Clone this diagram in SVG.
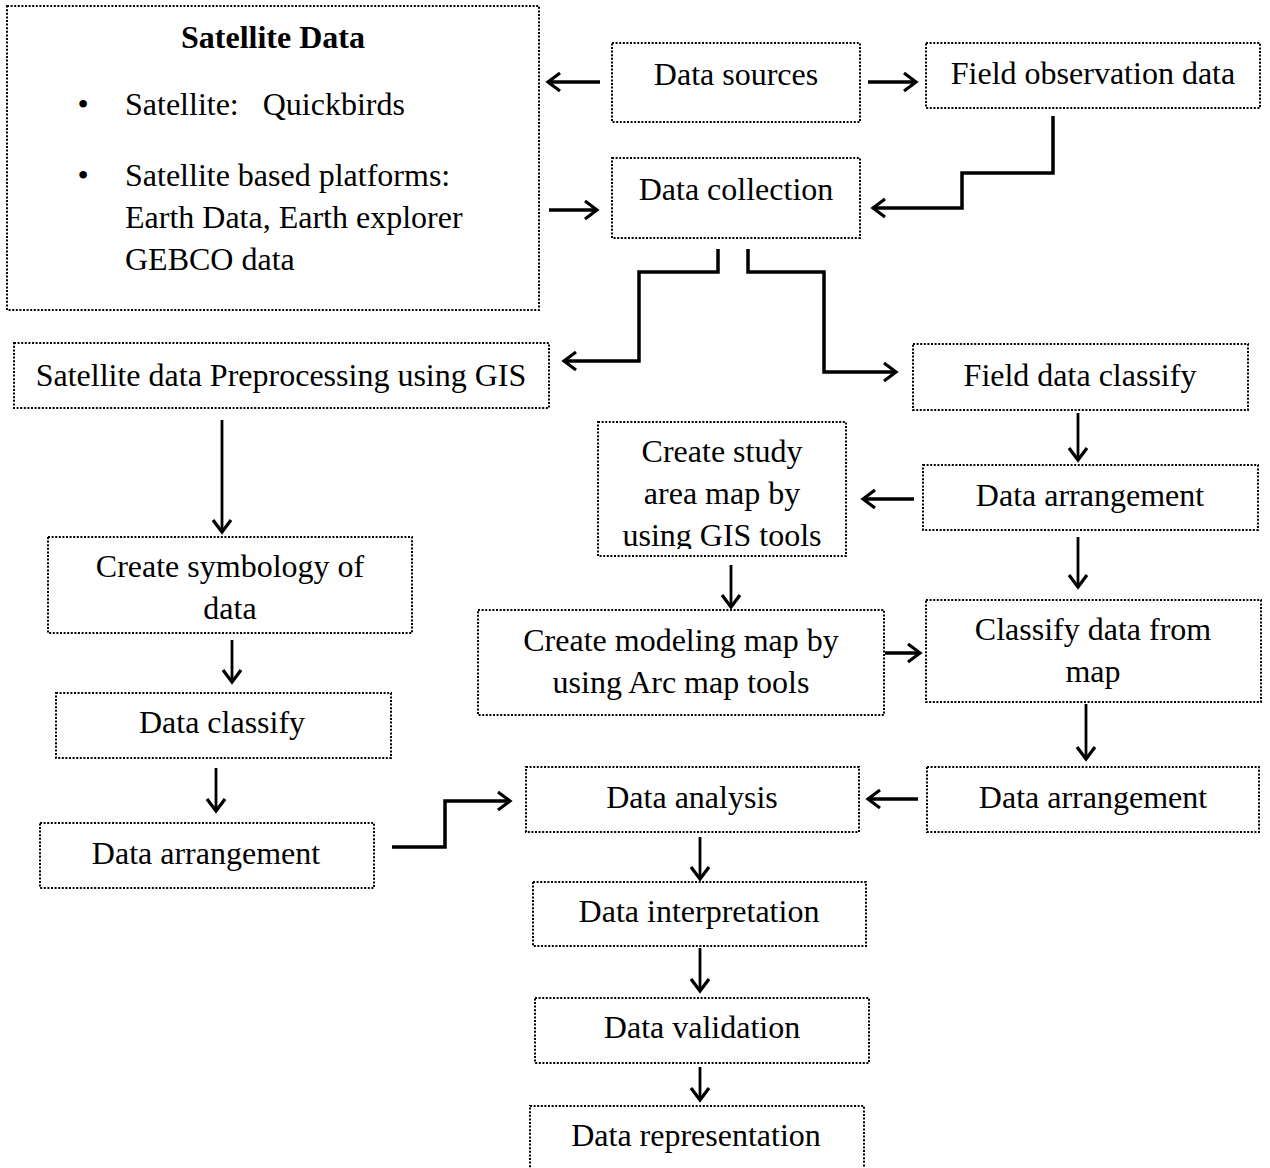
<svg xmlns="http://www.w3.org/2000/svg" width="1270" height="1168" viewBox="0 0 1270 1168">
<style>
.box{fill:none;stroke:#000;stroke-width:2;stroke-dasharray:2 1.6}
.t{font-family:"Liberation Serif","Times New Roman",serif;font-size:32px;fill:#000;text-anchor:middle}
.l{text-anchor:start}
.b{font-weight:bold}
.c{fill:none;stroke:#000;stroke-width:3.5;marker-end:url(#ah)}
.v{stroke-width:2.8}
</style>
<defs>
<marker id="ah" viewBox="-15 -11 17 22" refX="0" refY="0" markerWidth="17" markerHeight="22" orient="auto" markerUnits="userSpaceOnUse" overflow="visible">
<path d="M-12,-9 L0,0 L-12,9" fill="none" stroke="#000" stroke-width="3.2"/>
</marker>
<clipPath id="clipStudy"><rect x="598" y="422" width="248" height="127"/></clipPath>
</defs>
<rect width="1270" height="1168" fill="#fff"/>

<g id="connectors">
<path class="c" d="M600,82 H548"/>
<path class="c" d="M868,82 H916"/>
<path class="c" d="M549,210 H597"/>
<path class="c" d="M1053,116 V173 H962 V208 H873"/>
<path class="c" d="M718,249 V272 H639 V361 H564"/>
<path class="c" d="M748,249 V272 H824 V372 H896"/>
<path class="c v" d="M222,420 V532"/>
<path class="c v" d="M232,640 V682"/>
<path class="c v" d="M216,768 V811"/>
<path class="c" d="M392,847 H445 V801 H510"/>
<path class="c v" d="M1078,413 V460"/>
<path class="c" d="M914,499 H863"/>
<path class="c v" d="M1078,537 V587"/>
<path class="c v" d="M731,565 V607"/>
<path class="c" d="M885,653 H920"/>
<path class="c v" d="M1086,704 V759"/>
<path class="c" d="M918,799 H868"/>
<path class="c v" d="M700,837 V879"/>
<path class="c v" d="M700,948 V991"/>
<path class="c v" d="M700,1067 V1100"/>
</g>

<g id="satellite-data">
<rect class="box" x="7" y="6" width="532" height="304"/>
<text class="t b" x="273" y="48">Satellite Data</text>
<text class="t" x="83" y="115">•</text>
<text class="t l" x="125" y="115" xml:space="preserve">Satellite:   Quickbirds</text>
<text class="t" x="83" y="186">•</text>
<text class="t l" x="125" y="186">Satellite based platforms:</text>
<text class="t l" x="125" y="228">Earth Data, Earth explorer</text>
<text class="t l" x="125" y="270">GEBCO data</text>
</g>

<g id="data-sources">
<rect class="box" x="612" y="43" width="248" height="79"/>
<text class="t" x="736" y="85">Data sources</text>
</g>

<g id="field-observation-data">
<rect class="box" x="926" y="43" width="334" height="65"/>
<text class="t" x="1093" y="84">Field observation data</text>
</g>

<g id="data-collection">
<rect class="box" x="612" y="158" width="248" height="80"/>
<text class="t" x="736" y="200">Data collection</text>
</g>

<g id="satellite-preprocessing">
<rect class="box" x="14" y="343" width="535" height="65"/>
<text class="t" x="281" y="386">Satellite data Preprocessing using GIS</text>
</g>

<g id="field-data-classify">
<rect class="box" x="913" y="344" width="335" height="66"/>
<text class="t" x="1080" y="386">Field data classify</text>
</g>

<g id="create-study-area-map">
<rect class="box" x="598" y="422" width="248" height="134"/>
<g clip-path="url(#clipStudy)">
<text class="t" x="722" y="462">Create study</text>
<text class="t" x="722" y="504">area map by</text>
<text class="t" x="722" y="546">using GIS tools</text>
</g>
</g>

<g id="data-arrangement-right-1">
<rect class="box" x="923" y="465" width="335" height="65"/>
<text class="t" x="1090" y="506">Data arrangement</text>
</g>

<g id="create-symbology">
<rect class="box" x="48" y="537" width="364" height="96"/>
<text class="t" x="230" y="577">Create symbology of</text>
<text class="t" x="230" y="619">data</text>
</g>

<g id="create-modeling-map">
<rect class="box" x="478" y="610" width="406" height="105"/>
<text class="t" x="681" y="651">Create modeling map by</text>
<text class="t" x="681" y="693">using Arc map tools</text>
</g>

<g id="classify-data-from-map">
<rect class="box" x="926" y="600" width="335" height="102"/>
<text class="t" x="1093" y="640">Classify data from</text>
<text class="t" x="1093" y="682">map</text>
</g>

<g id="data-classify">
<rect class="box" x="56" y="693" width="335" height="65"/>
<text class="t" x="222" y="733">Data classify</text>
</g>

<g id="data-analysis">
<rect class="box" x="526" y="767" width="333" height="65"/>
<text class="t" x="692" y="808">Data analysis</text>
</g>

<g id="data-arrangement-right-2">
<rect class="box" x="927" y="767" width="332" height="65"/>
<text class="t" x="1093" y="808">Data arrangement</text>
</g>

<g id="data-arrangement-left">
<rect class="box" x="40" y="823" width="334" height="65"/>
<text class="t" x="206" y="864">Data arrangement</text>
</g>

<g id="data-interpretation">
<rect class="box" x="533" y="882" width="333" height="64"/>
<text class="t" x="699" y="922">Data interpretation</text>
</g>

<g id="data-validation">
<rect class="box" x="535" y="998" width="334" height="65"/>
<text class="t" x="702" y="1038">Data validation</text>
</g>

<g id="data-representation">
<rect class="box" x="530" y="1106" width="334" height="80"/>
<text class="t" x="696" y="1146">Data representation</text>
</g>
</svg>
